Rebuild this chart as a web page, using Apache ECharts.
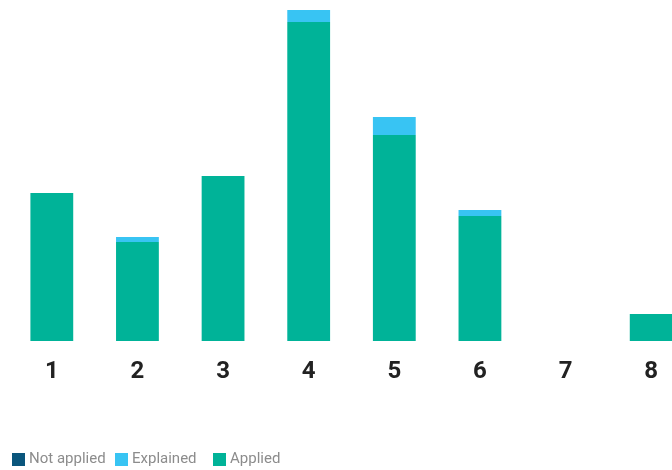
<!DOCTYPE html>
<html>
<head>
<meta charset="utf-8">
<style>
  html, body { margin: 0; padding: 0; background: #fff; }
  #chart { width: 672px; height: 470px; }
</style>
<script src="https://cdn.jsdelivr.net/npm/echarts@6/dist/echarts.min.js"></script>
</head>
<body>
<div id="chart"></div>
<script>
// Categories along the x axis
const categories = ['1', '2', '3', '4', '5', '6', '7', '8'];
// Stacked series values
const notApplied = [0, 0, 0, 0, 0, 0, 0, 0];
const explained = [0, 5, 0, 12, 18, 6, 0, 0];
const applied = [148, 99, 165, 319, 206, 125, 0, 27];
const seriesNames = ['Not applied', 'Explained', 'Applied'];

const colors = { 'Not applied': '#0a567c', 'Explained': '#38c4f3', 'Applied': '#00b398' };
const legendLefts = [12, 115, 213];

const chart = echarts.init(document.getElementById('chart'), null, { renderer: 'canvas' });

const makeSeries = (name, data) => ({
  name,
  type: 'bar',
  stack: 'total',
  barWidth: '50%',
  itemStyle: { color: colors[name] },
  emphasis: { disabled: true },
  data
});

// One legend block per entry so each swatch sits at its own spot
const legends = seriesNames.map((name, i) => ({
  data: [name],
  left: legendLefts[i],
  top: 450,
  padding: 0,
  icon: 'rect',
  itemWidth: 13,
  itemHeight: 13,
  selectedMode: false,
  textStyle: {
    color: '#8c8c8c',
    fontSize: 15,
    lineHeight: 19,
    padding: [0, 0, 0, -1],
    fontFamily: 'Roboto'
  }
}));

chart.setOption({
  animation: false,
  legend: legends,
  grid: { left: 9, top: 0, right: -22, height: 341, outerBoundsMode: 'none' },
  xAxis: {
    type: 'category',
    data: categories,
    axisLine: { show: false },
    axisTick: { show: false },
    axisLabel: {
      margin: 19,
      color: '#222',
      fontSize: 24,
      fontWeight: 'bold',
      fontFamily: 'Roboto'
    }
  },
  yAxis: {
    type: 'value',
    min: 0,
    max: 341,
    show: false,
    splitLine: { show: false }
  },
  series: [
    makeSeries('Applied', applied),
    makeSeries('Explained', explained),
    makeSeries('Not applied', notApplied)
  ]
});
</script>
</body>
</html>
